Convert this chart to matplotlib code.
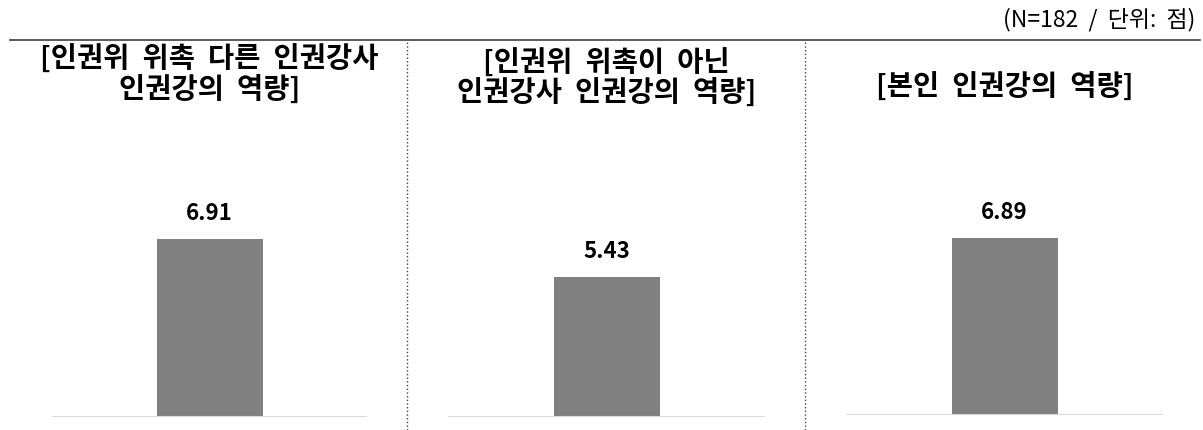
import matplotlib
matplotlib.use("Agg")
import matplotlib.pyplot as plt
from matplotlib.lines import Line2D

plt.rcParams['font.family'] = ['Noto Sans CJK KR', 'DejaVu Sans']

# 데이터
titles = ['[인권위  위촉  다른  인권강사\n인권강의  역량]',
          '[인권위  위촉이  아닌\n인권강사  인권강의  역량]',
          '[본인  인권강의  역량]']
values = [6.91, 5.43, 6.89]
note = '(N=182  /  단위:  점)'

W, H = 1203, 431
fig = plt.figure(figsize=(W / 100, H / 100), dpi=100)

# 패널 위치 (픽셀 기준)
panels = [(52, 367, 418), (448, 765, 418), (846, 1163, 416)]
title_y = [74, 77, 86]
ymax = 8.0
px_per_unit = 25.7

for i, (x0, x1, yb) in enumerate(panels):
    ax = fig.add_axes([x0 / W, (H - yb) / H, (x1 - x0) / W, ymax * px_per_unit / H])
    ax.bar([0], [values[i]], width=106 / (x1 - x0), color='#808080')
    ax.set_xlim(-0.5, 0.5)
    ax.set_ylim(0, ymax)
    ax.axhline(0, color='#d9d9d9', lw=1.5)
    for s in ax.spines.values():
        s.set_visible(False)
    ax.set_xticks([])
    ax.set_yticks([])
    ax.patch.set_alpha(0)
    ax.annotate(f'{values[i]:.2f}', (0, values[i]), xytext=(0, 14.5),
                textcoords='offset points', ha='center', va='baseline',
                fontsize=16, fontweight='bold')
    fig.text((x0 + x1) / 2 / W, 1 - title_y[i] / H, titles[i], ha='center', va='center',
             fontsize=20.5, fontweight='bold', linespacing=1.03)

# 상단 선과 구분선
fig.add_artist(Line2D([10 / W, 1200 / W], [1 - 41 / H, 1 - 41 / H], color='#404040', lw=1.2))
for xs in [407, 805]:
    fig.add_artist(Line2D([xs / W, xs / W], [0, 1 - 41 / H], color='#404040', lw=1, ls=':'))

fig.text(1195 / W, 1 - 20 / H, note, ha='right', va='center', fontsize=16.5)

fig.savefig('out.png', dpi=100)
